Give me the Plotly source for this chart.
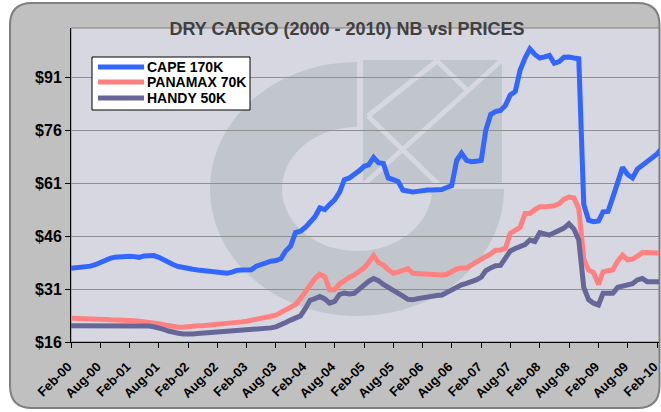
import numpy as np
import pandas as pd
import plotly.graph_objects as go

# ---------------- data ----------------
cape = [36.9, 37.0, 37.1, 37.3, 37.5, 37.9, 38.6, 39.2, 39.7, 40.0,
        40.2, 40.3, 40.3, 40.2, 40.0, 40.4, 40.6, 40.5, 40.0, 39.2,
        38.4, 37.9, 37.4, 37.0, 36.8, 36.6, 36.4, 36.3, 36.1, 35.9,
        35.7, 35.6, 35.5, 35.8, 36.3, 36.4, 36.5, 36.5, 37.5, 38.0,
        38.6, 38.9, 39.1, 39.6, 41.8, 43.2, 47.0, 47.4, 48.5, 50.2,
        51.5, 54.0, 53.5, 55.0, 56.3, 58.5, 62.0, 62.5, 63.4, 64.5,
        65.8, 66.2, 68.3, 66.8, 66.6, 62.5, 62.0, 61.5, 59.0, 58.6,
        58.5, 58.7, 59.0, 59.1, 59.1, 59.1, 59.2, 59.8, 60.3, 67.5,
        69.5, 67.5, 67.1, 67.2, 67.5, 76.0, 80.5, 81.3, 81.6, 83.0,
        86.0, 87.0, 93.0, 96.5, 99.1, 97.5, 96.5, 96.8, 97.2, 95.0,
        95.5, 96.7, 96.8, 96.5, 96.3, 55.0, 50.5, 50.1, 50.3, 52.9,
        53.0, 57.0, 61.5, 65.5, 63.5, 62.5, 65.0, 66.0, 67.2, 68.0,
        69.3, 70.8]
panamax = [22.7, 22.7, 22.6, 22.6, 22.5, 22.5, 22.4, 22.4, 22.3, 22.3,
           22.2, 22.2, 22.1, 22.0, 21.9, 21.8, 21.6, 21.5, 21.2, 20.9,
           20.6, 20.4, 20.2, 20.2, 20.4, 20.5, 20.6, 20.6, 20.7, 20.8,
           20.9, 21.0, 21.2, 21.3, 21.5, 21.7, 21.9, 22.1, 22.3, 22.6,
           23.0, 23.3, 23.6, 24.3, 25.0, 25.6, 26.6, 28.3, 30.3, 32.5,
           34.0, 35.2, 34.5, 30.8, 30.8, 32.5, 33.5, 34.3, 35.0, 36.0,
           37.0, 38.5, 40.5, 38.5, 37.8, 36.5, 35.5, 35.8, 36.3, 36.8,
           35.5, 35.4, 35.3, 35.3, 35.2, 35.0, 35.0, 35.2, 36.0, 36.7,
           37.0, 37.0, 37.8, 38.5, 39.2, 40.2, 41.0, 42.0, 42.1, 42.5,
           46.8, 47.5, 48.5, 52.4, 52.4, 53.5, 54.3, 54.3, 54.3, 54.6,
           55.2, 56.5, 57.1, 56.8, 53.8, 39.5, 36.4, 35.7, 32.3, 35.9,
           36.2, 36.4, 39.0, 40.6, 39.3, 39.5, 40.3, 41.3, 41.4, 41.2,
           41.2, 41.2]
handy = [20.6, 20.6, 20.6, 20.6, 20.7, 20.7, 20.7, 20.7, 20.7, 20.7,
         20.7, 20.7, 20.7, 20.7, 20.6, 20.6, 20.5, 20.3, 20.1, 19.6,
         19.1, 18.7, 18.5, 18.3, 18.2, 18.3, 18.4, 18.5, 18.6, 18.7,
         18.8, 18.9, 19.0, 19.1, 19.2, 19.3, 19.4, 19.4, 19.5, 19.5,
         19.6, 20.0, 20.3, 20.8, 21.5, 22.2, 22.8, 23.4, 25.5, 27.8,
         28.3, 28.9, 28.2, 27.0, 27.5, 29.5, 29.9, 29.6, 29.8, 31.0,
         32.2, 33.2, 34.0, 33.4, 32.3, 31.5, 30.8, 30.2, 29.0, 28.1,
         28.0, 28.3, 28.6, 28.9, 29.0, 29.2, 29.3, 30.0, 30.8, 31.6,
         32.2, 32.6, 33.0, 33.6, 34.4, 36.2, 37.0, 37.6, 37.7, 39.5,
         41.8, 42.5, 43.0, 43.6, 44.9, 44.5, 47.0, 46.8, 46.3, 47.0,
         47.7, 48.3, 49.5, 48.0, 44.9, 31.5, 28.0, 27.0, 26.5, 29.8,
         29.8, 29.8, 31.5, 31.9, 32.1, 32.5, 33.6, 34.0, 33.1, 33.1,
         33.1, 33.1]
months = pd.date_range("2000-02-01", periods=len(cape), freq="MS")
series_names = ["CAPE 170K", "PANAMAX 70K", "HANDY 50K"]
series_values = [cape, panamax, handy]
series_colors = ["#3366ff", "#ff8080", "#666699"]
y_ticks = [16, 31, 46, 61, 76, 91]
y_tick_labels = ["$16", "$31", "$46", "$61", "$76", "$91"]
title_text = "DRY CARGO (2000 - 2010) NB vsl PRICES"

# ---------------- geometry helpers ----------------
W, H = 661, 412
L, R, T, B = 71, 2, 28, 70
PW, PH = W - L - R, H - T - B


def fx(x):
    return (x - L) / PW


def fy(y):
    return (H - B - y) / PH


def rrect(x0, y0, x1, y1, r):
    p = [f"M{fx(x0 + r)},{fy(y0)}", f"L{fx(x1 - r)},{fy(y0)}",
         f"Q{fx(x1)},{fy(y0)} {fx(x1)},{fy(y0 + r)}", f"L{fx(x1)},{fy(y1 - r)}",
         f"Q{fx(x1)},{fy(y1)} {fx(x1 - r)},{fy(y1)}", f"L{fx(x0 + r)},{fy(y1)}",
         f"Q{fx(x0)},{fy(y1)} {fx(x0)},{fy(y1 - r)}", f"L{fx(x0)},{fy(y0 + r)}",
         f"Q{fx(x0)},{fy(y0)} {fx(x0 + r)},{fy(y0)}", "Z"]
    return " ".join(p)


def ring_path(cx, cy, rxo, ryo, rxi, ryi, a0, a1):
    ang = np.radians(np.linspace(a0, a1, 80))
    pts = [(cx + rxo * np.cos(a), cy - ryo * np.sin(a)) for a in ang]
    pts += [(cx + rxi * np.cos(a), cy - ryi * np.sin(a)) for a in ang[::-1]]
    s = "M" + " L".join(f"{fx(x)},{fy(y)}" for x, y in pts) + " Z"
    return s


def poly(pts):
    return "M" + " L".join(f"{fx(x)},{fy(y)}" for x, y in pts)


PLOT_BG = "#d6d7e0"
MARK = "#c1c6cd"

shapes = [
    # outer chart frame
    dict(type="path", xref="paper", yref="paper", layer="below",
         path=rrect(10, 3, 659.5, 408, 22), fillcolor="#c0c0c0",
         line=dict(color="#7f7f7f", width=2)),
    # plot area
    dict(type="rect", xref="paper", yref="paper", layer="below",
         x0=0, x1=1, y0=0, y1=1, fillcolor=PLOT_BG,
         line=dict(color="#7f7f7f", width=1)),
    # watermark logo
    dict(type="path", xref="paper", yref="paper", layer="below",
         path=ring_path(357, 189, 147, 127, 75, 62, 90, 360),
         fillcolor=MARK, line=dict(width=0)),
    dict(type="rect", xref="paper", yref="paper", layer="below",
         x0=fx(363), x1=fx(502), y0=fy(183), y1=fy(60),
         fillcolor=MARK, line=dict(width=0)),
]
for seg in [[(368, 116), (437, 61)], [(368, 116), (440, 186)],
            [(362, 186), (502, 60)], [(437, 61), (467, 90)]]:
    shapes.append(dict(type="path", xref="paper", yref="paper", layer="below",
                       path=poly(seg), line=dict(color=PLOT_BG, width=5)))

# manual legend
legend_rows_y = [67, 82, 98]
shapes.append(dict(type="rect", xref="paper", yref="paper", layer="above",
                   x0=fx(92), x1=fx(250), y0=fy(110), y1=fy(57),
                   fillcolor="white", line=dict(color="black", width=1)))
annotations = []
for name, col, yy in zip(series_names, series_colors, legend_rows_y):
    shapes.append(dict(type="line", xref="paper", yref="paper", layer="above",
                       x0=fx(98), x1=fx(144), y0=fy(yy), y1=fy(yy),
                       line=dict(color=col, width=5)))
    annotations.append(dict(xref="paper", yref="paper", x=fx(146), y=fy(yy),
                            xanchor="left", yanchor="middle", showarrow=False,
                            text=name, borderpad=0,
                            font=dict(family="Liberation Sans, Arial", size=14,
                                      weight="bold", color="black")))

fig = go.Figure()
for name, vals, col in zip(series_names, series_values, series_colors):
    fig.add_trace(go.Scatter(x=months, y=vals, mode="lines", name=name,
                             line=dict(color=col, width=5), showlegend=False))

fig.update_layout(
    width=W, height=H,
    margin=dict(l=L, r=R, t=T, b=B, pad=0),
    paper_bgcolor="white", plot_bgcolor="rgba(0,0,0,0)",
    shapes=shapes, annotations=annotations,
    title=dict(text=title_text, xref="paper", x=fx(347), xanchor="center",
               yref="container", y=1 - 29 / H, yanchor="middle",
               font=dict(family="Liberation Sans, Arial", size=18,
                         weight="bold", color="#404040")),
    xaxis=dict(type="date", range=["2000-02-01", "2010-02-13"],
               tick0="2000-02-01", dtick="M6", tickformat="%b-%y",
               tickangle=-45, ticks="outside", ticklen=5, tickcolor="black",
               showline=True, linecolor="black", linewidth=1,
               showgrid=False, zeroline=False, automargin=False,
               ticklabeloverflow="allow", ticklabelshift=-3,
               ticklabelstandoff=6,
               tickfont=dict(family="Liberation Sans, Arial", size=13,
                             weight="bold", color="black")),
    yaxis=dict(range=[16, 105], tickmode="array", tickvals=y_ticks,
               ticktext=y_tick_labels,
               ticks="outside", ticklen=5, tickcolor="black",
               showline=True, linecolor="black", linewidth=1,
               showgrid=True, gridcolor="#8f8f8f", gridwidth=1, zeroline=False,
               automargin=False,
               tickfont=dict(family="Liberation Sans, Arial", size=16,
                             weight="bold", color="black")),
)

fig.write_html("out.html", config={"displayModeBar": False},
               post_script="document.body.style.margin='0';"
                           "document.body.style.overflow='hidden';")
